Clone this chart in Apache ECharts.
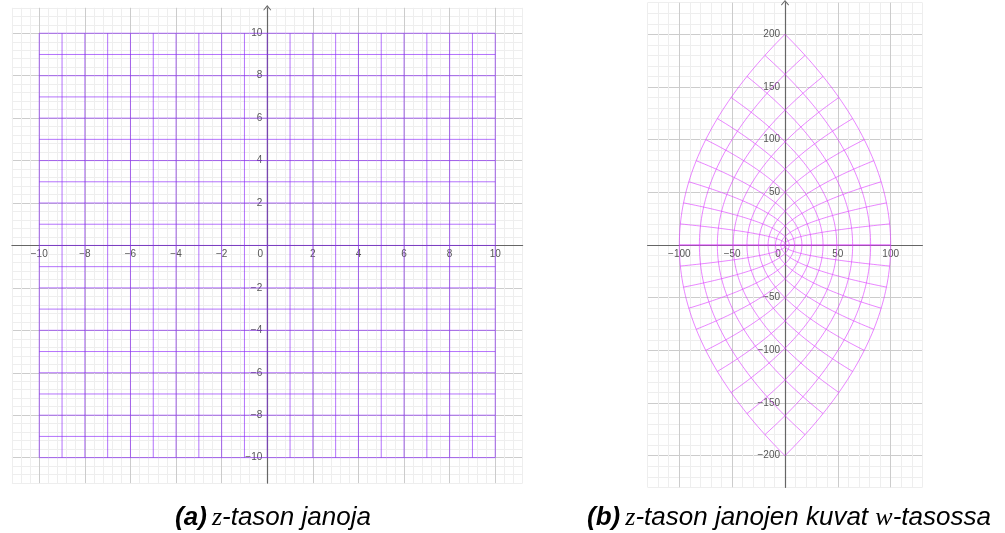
<!DOCTYPE html>
<html>
<head>
<meta charset="utf-8">
<script src="https://cdn.jsdelivr.net/npm/echarts@6/dist/echarts.min.js"></script>
<style>
html, body { margin: 0; padding: 0; background: #fff; }
#main { width: 1005px; height: 533px; }
</style>
</head>
<body>
<div id="main"></div>
<script>
// z-tason janat: x = c ja y = c, kun c = -10 ... 10
var lineValues = [-10, -9, -8, -7, -6, -5, -4, -3, -2, -1, 0, 1, 2, 3, 4, 5, 6, 7, 8, 9, 10];
var segEnds = [-10, 10];

// akseleiden numerot
var zTicks = [-10, -8, -6, -4, -2, 0, 2, 4, 6, 8, 10];
var uTicks = [-100, -50, 0, 50, 100];
var vTicks = [-200, -150, -100, -50, 50, 100, 150, 200];

// näkyvät alueet ja ruudukon tiheys (pieni ruutu)
var zRange = [-11.2, 11.2];
var uRange = [-130, 130];
var vRange = [-230, 230];
var zStep = 0.4;
var wStep = 10;

var PURPLE = 'rgba(140, 40, 250, 0.65)';
var MAGENTA = 'rgba(220, 60, 255, 0.62)';
var gridCols = ['#eeeeee', '#eeeeee', '#eeeeee', '#cccccc', '#eeeeee'];

// ruutujen paikat sivulla
var gz = {left: 11.9, top: 7.8, width: 510.7, height: 475.3};
var gw = {left: 647.6, top: 2.7, width: 274.8, height: 484.6};

function minus(n) {
    return String(n).replace('-', '\u2212');
}

// z-tason janat
var zSegs = [];
lineValues.forEach(function (c) {
    zSegs.push({coords: [[c, segEnds[0]], [c, segEnds[1]]]});
    zSegs.push({coords: [[segEnds[0], c], [segEnds[1], c]]});
});

// janojen kuvat kuvauksessa w = z^2  (u = x^2 - y^2, v = 2xy)
function sq(x, y) {
    return [x * x - y * y, 2 * x * y];
}
var wSegs = [];
lineValues.forEach(function (c) {
    if (c < 0) return; // c ja -c antavat saman käyrän
    var a = [], b = [];
    for (var i = 0; i <= 100; i++) {
        var t = segEnds[0] + (segEnds[1] - segEnds[0]) * i / 100;
        a.push(sq(c, t));
        b.push(sq(t, c));
    }
    wSegs.push({coords: a});
    wSegs.push({coords: b});
});

function tickLabel(list, zeroShift) {
    return function (v) {
        var r = Math.round(v * 100) / 100;
        if (list.indexOf(r) < 0) return '';
        if (r === 0) return zeroShift ? '{o|0}' : '';
        return minus(r);
    };
}

var labelStyle = {
    color: '#555',
    fontSize: 10,
    fontFamily: 'Liberation Sans, Arial, sans-serif'
};

// akseli siirretään nollakohtaan offsetilla
function axis(grid, g, range, yr, step, list, isX) {
    var off;
    if (isX) {
        var zeroY = g.top + g.height * yr[1] / (yr[1] - yr[0]);
        off = -(g.top + g.height - zeroY);
    } else {
        var zeroX = g.left + g.width * (-yr[0]) / (yr[1] - yr[0]);
        off = -(zeroX - g.left);
    }
    return {
        type: 'value',
        gridIndex: grid,
        position: isX ? 'bottom' : 'left',
        offset: off,
        min: range[0],
        max: range[1],
        interval: step,
        axisLine: {
            onZero: false,
            lineStyle: {color: '#666', width: 1.2},
            symbol: isX ? 'none' : ['none', 'path://M0,0 L5,6 L4.2,6.8 L0,2 L-4.2,6.8 L-5,6 Z'],
            symbolSize: [8, 9]
        },
        axisTick: {show: false},
        splitLine: {show: true, lineStyle: {color: gridCols, width: 1}},
        axisLabel: Object.assign({}, labelStyle, {
            margin: isX ? 4 : 5,
            formatter: tickLabel(list, isX),
            rich: {o: Object.assign({}, labelStyle, {padding: [0, 14, 0, 0]})}
        })
    };
}

var capBase = {fontFamily: 'Liberation Sans, Arial', fontStyle: 'italic', fontWeight: 'normal', fontSize: 26, color: '#000'};
var capRich = {
    b: Object.assign({}, capBase, {fontWeight: 'bold'}),
    m: Object.assign({}, capBase, {fontFamily: 'Liberation Serif, serif'}),
    t: capBase
};

var chart = echarts.init(document.getElementById('main'));
var option = {
    animation: false,
    backgroundColor: '#fff',
    title: [{
        text: '{b|(a)} {m|z}{t|-tason janoja}',
        left: 268, top: 500, textAlign: 'center',
        textStyle: {fontWeight: 'normal', rich: capRich}
    }, {
        text: '{b|(b)} {m|z}{t|-tason janojen kuvat }{m|w}{t|-tasossa}',
        left: 784, top: 500, textAlign: 'center',
        textStyle: {fontWeight: 'normal', rich: capRich}
    }],
    grid: [
        Object.assign({containLabel: false, outerBoundsMode: 'none'}, gz),
        Object.assign({containLabel: false, outerBoundsMode: 'none'}, gw)
    ],
    xAxis: [
        axis(0, gz, zRange, zRange, zStep, zTicks, true),
        axis(1, gw, uRange, vRange, wStep, uTicks, true)
    ],
    yAxis: [
        axis(0, gz, zRange, zRange, zStep, zTicks, false),
        axis(1, gw, vRange, uRange, wStep, vTicks, false)
    ],
    series: [{
        type: 'lines',
        coordinateSystem: 'cartesian2d',
        xAxisIndex: 0, yAxisIndex: 0,
        polyline: true,
        silent: true,
        lineStyle: {color: PURPLE, width: 1, opacity: 1},
        data: zSegs
    }, {
        type: 'lines',
        coordinateSystem: 'cartesian2d',
        xAxisIndex: 1, yAxisIndex: 1,
        polyline: true,
        silent: true,
        lineStyle: {color: MAGENTA, width: 1, opacity: 1},
        data: wSegs
    }]
};
chart.setOption(option);
</script>
</body>
</html>
